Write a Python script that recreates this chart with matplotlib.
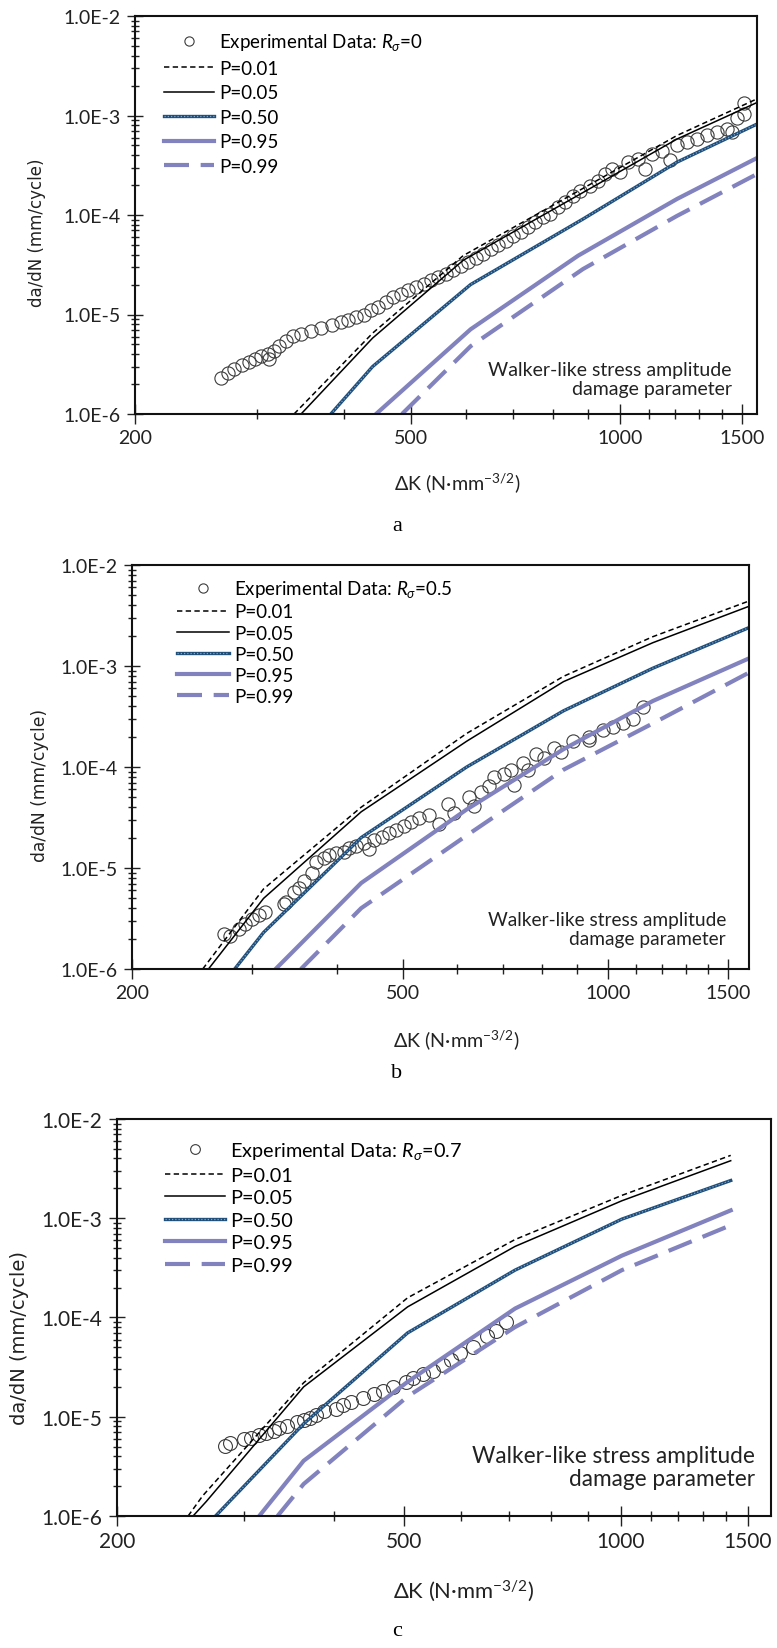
import numpy as np
import matplotlib
matplotlib.use('Agg')
import matplotlib.pyplot as plt
from matplotlib.ticker import FixedLocator, NullFormatter

plt.rcParams['font.family'] = ['Lato', 'DejaVu Sans']
plt.rcParams['mathtext.fontset'] = 'custom'
plt.rcParams['mathtext.rm'] = 'Lato'
plt.rcParams['mathtext.it'] = 'Lato:italic'

W, H = 777, 1649

# ---------------- panel a : R = 0 ----------------
a_exp_K = [266, 272, 278, 285, 292, 298, 304, 311, 312, 317, 322, 330, 338, 347,
           359, 371, 384, 396, 406, 416, 427, 437, 448, 460, 471, 483, 495, 508,
           521, 534, 547, 561, 575, 589, 604, 619, 635, 651, 667, 684, 701, 719,
           737, 755, 774, 793, 813, 834, 855, 876, 906, 928, 951, 975, 1000, 1025,
           1060, 1086, 1113, 1150, 1179, 1209, 1250, 1292, 1335, 1380, 1426, 1450,
           1474, 1511, 1511]
a_exp_v = [2.30e-6, 2.58e-6, 2.83e-6, 3.1e-6, 3.3e-6, 3.6e-6, 3.86e-6, 4.0e-6, 3.6e-6,
           4.3e-6, 4.85e-6, 5.45e-6, 6.1e-6, 6.4e-6, 6.9e-6, 7.3e-6, 7.9e-6, 8.5e-6,
           8.9e-6, 9.5e-6, 1.0e-5, 1.1e-5, 1.18e-5, 1.33e-5, 1.49e-5, 1.6e-5, 1.77e-5,
           1.88e-5, 2.03e-5, 2.2e-5, 2.37e-5, 2.57e-5, 2.83e-5, 3.1e-5, 3.34e-5,
           3.67e-5, 4.05e-5, 4.55e-5, 5.0e-5, 5.5e-5, 6.2e-5, 6.8e-5, 7.5e-5, 8.6e-5,
           9.5e-5, 1.03e-4, 1.2e-4, 1.35e-4, 1.57e-4, 1.76e-4, 1.97e-4, 2.2e-4, 2.6e-4,
           2.9e-4, 2.7e-4, 3.4e-4, 3.66e-4, 2.9e-4, 4.1e-4, 4.4e-4, 3.55e-4, 5.0e-4,
           5.4e-4, 5.8e-4, 6.3e-4, 6.8e-4, 7.3e-4, 6.8e-4, 9.5e-4, 1.04e-3, 1.35e-3]
a_p01_K = [339, 440, 594, 884, 1208, 1575]
a_p01_v = [1.0e-6, 6.5e-6, 3.9e-5, 1.85e-4, 6.3e-4, 1.47e-3]
a_p05_K = [347, 440, 594, 884, 1208, 1575]
a_p05_v = [1.0e-6, 5.8e-6, 3.5e-5, 1.68e-4, 5.8e-4, 1.35e-3]
a_p50_K = [383, 440, 609, 884, 1208, 1575]
a_p50_v = [1.0e-6, 3.0e-6, 2.0e-5, 9.1e-5, 3.4e-4, 8.2e-4]
a_p95_K = [445, 609, 870, 1208, 1575]
a_p95_v = [1.0e-6, 7.1e-6, 3.9e-5, 1.45e-4, 3.74e-4]
a_p99_K = [485, 609, 884, 1208, 1575]
a_p99_v = [1.0e-6, 4.8e-6, 2.86e-5, 9.8e-5, 2.58e-4]

# ---------------- panel b : R = 0.5 ----------------
b_exp_K = [273, 279, 287, 293, 300, 307, 314, 334, 337, 346, 352, 358, 367, 373,
           383, 389, 399, 409, 416, 427, 438, 445, 453, 465, 477, 489, 501, 514,
           527, 545, 564, 583, 593, 624, 635, 651, 668, 679, 703, 721, 727, 751,
           764, 784, 804, 832, 853, 889, 936, 936, 984, 1017, 1053, 1089, 1126]
b_exp_v = [2.2e-6, 2.1e-6, 2.5e-6, 2.8e-6, 3.1e-6, 3.4e-6, 3.7e-6, 4.4e-6, 4.6e-6,
           5.8e-6, 6.3e-6, 7.4e-6, 9.0e-6, 1.15e-5, 1.25e-5, 1.35e-5, 1.4e-5, 1.45e-5,
           1.58e-5, 1.65e-5, 1.75e-5, 1.55e-5, 1.9e-5, 2.05e-5, 2.2e-5, 2.4e-5, 2.6e-5,
           2.85e-5, 3.1e-5, 3.35e-5, 2.75e-5, 4.3e-5, 3.5e-5, 5.1e-5, 4.1e-5, 5.7e-5,
           6.5e-5, 7.9e-5, 8.6e-5, 9.35e-5, 6.7e-5, 1.1e-4, 9.35e-5, 1.33e-4, 1.22e-4,
           1.55e-4, 1.4e-4, 1.81e-4, 2.0e-4, 1.85e-4, 2.3e-4, 2.5e-4, 2.7e-4, 2.96e-4,
           3.94e-4]
b_p01_K = [254, 312, 434, 620, 860, 1163, 1610]
b_p01_v = [1.0e-6, 6.2e-6, 4.0e-5, 2.15e-4, 7.9e-4, 1.95e-3, 4.4e-3]
b_p05_K = [259, 312, 434, 620, 860, 1163, 1610]
b_p05_v = [1.0e-6, 5.0e-6, 3.6e-5, 1.8e-4, 7.0e-4, 1.7e-3, 3.9e-3]
b_p50_K = [283, 312, 434, 620, 860, 1163, 1610]
b_p50_v = [1.0e-6, 2.3e-6, 2.0e-5, 1.0e-4, 3.6e-4, 9.5e-4, 2.4e-3]
b_p95_K = [325, 434, 620, 860, 1163, 1610]
b_p95_v = [1.0e-6, 7.1e-6, 3.8e-5, 1.5e-4, 4.5e-4, 1.19e-3]
b_p99_K = [354, 434, 620, 860, 1163, 1610]
b_p99_v = [1.0e-6, 4.0e-6, 2.1e-5, 9.4e-5, 2.7e-4, 8.6e-4]

# ---------------- panel c : R = 0.7 ----------------
c_exp_K = [282, 287, 300, 307, 315, 322, 330, 336, 344, 355, 363, 370, 378, 387,
           403, 412, 422, 439, 454, 468, 483, 503, 515, 532, 549, 567, 581, 599,
           624, 652, 670, 692]
c_exp_v = [5.13e-6, 5.43e-6, 5.91e-6, 6.07e-6, 6.61e-6, 6.89e-6, 7.19e-6, 7.63e-6,
           8.16e-6, 8.89e-6, 9.27e-6, 9.67e-6, 1.05e-5, 1.13e-5, 1.19e-5, 1.30e-5,
           1.42e-5, 1.54e-5, 1.68e-5, 1.82e-5, 1.99e-5, 2.25e-5, 2.45e-5, 2.72e-5,
           2.91e-5, 3.30e-5, 3.74e-5, 4.43e-5, 5.04e-5, 6.49e-5, 7.37e-5, 9.10e-5]
c_p01_K = [251, 263, 363, 506, 713, 1003, 1420]
c_p01_v = [1.0e-6, 1.6e-6, 2.2e-5, 1.58e-4, 6.1e-4, 1.7e-3, 4.3e-3]
c_p05_K = [255, 266, 363, 506, 713, 1003, 1420]
c_p05_v = [1.0e-6, 1.4e-6, 2.0e-5, 1.28e-4, 5.2e-4, 1.5e-3, 3.8e-3]
c_p50_K = [274, 363, 506, 713, 1003, 1420]
c_p50_v = [1.0e-6, 8.5e-6, 7.0e-5, 3.0e-4, 9.8e-4, 2.4e-3]
c_p95_K = [315, 363, 506, 713, 1003, 1420]
c_p95_v = [1.0e-6, 3.6e-6, 2.25e-5, 1.23e-4, 4.2e-4, 1.2e-3]
c_p99_K = [334, 363, 506, 713, 1003, 1420]
c_p99_v = [1.0e-6, 2.1e-6, 1.6e-5, 8.0e-5, 3.0e-4, 8.5e-4]

r_labels = ['0', '0.5', '0.7']
p_labels = ['P=0.01', 'P=0.05', 'P=0.50', 'P=0.95', 'P=0.99']
x_major = [200, 500, 1000, 1500]
x_minor = [300, 400, 600, 700, 800, 900, 1100, 1200, 1300, 1400]
y_major = [1e-6, 1e-5, 1e-4, 1e-3, 1e-2]
y_labels = ['1.0E-6', '1.0E-5', '1.0E-4', '1.0E-3', '1.0E-2']

LAV = '#8282be'
NAVY = '#1f4e79'


def px2fig(x, y):
    return x / W, 1 - y / H


def draw_panel(fig, box, xmax, data, r_label, lay):
    left, top, right, bottom = box
    ax = fig.add_axes([left / W, 1 - bottom / H, (right - left) / W, (bottom - top) / H])
    exp_K, exp_v, curves = data
    ax.set_xscale('log')
    ax.set_yscale('log')

    l_exp, = ax.plot(exp_K, exp_v, 'o', mfc='none', mec='#3c3c3c', ms=lay['ms'], mew=0.8)
    (k1, v1), (k2, v2), (k3, v3), (k4, v4), (k5, v5) = curves
    l01, = ax.plot(k1, v1, color='black', lw=1.1, dashes=(3.5, 2.2))
    l05, = ax.plot(k2, v2, color='black', lw=1.1)
    l50a, = ax.plot(k3, v3, color=NAVY, lw=2.4)
    l50b, = ax.plot(k3, v3, color='#7fa3cf', lw=0.9, dashes=(1, 1.6))
    l95, = ax.plot(k4, v4, color=LAV, lw=3.0)
    l99, = ax.plot(k5, v5, color=LAV, lw=3.0, dashes=(6, 2.8))

    ax.set_xlim(200, xmax)
    ax.set_ylim(1e-6, 1e-2)
    ax.xaxis.set_major_locator(FixedLocator(x_major))
    ax.xaxis.set_minor_locator(FixedLocator(x_minor))
    ax.set_xticklabels([str(v) for v in x_major])
    ax.xaxis.set_minor_formatter(NullFormatter())
    ax.yaxis.set_major_locator(FixedLocator(y_major))
    ax.set_yticklabels(y_labels)
    ax.yaxis.set_minor_locator(FixedLocator(
        [m * 10.0 ** e for e in range(-6, -2) for m in range(2, 10)]))
    ax.yaxis.set_minor_formatter(NullFormatter())

    fs = lay['tick_fs']
    ax.tick_params(axis='x', which='major', direction='inout', length=14, width=1,
                   pad=4, labelsize=fs, colors='#222222')
    ax.tick_params(axis='x', which='minor', direction='inout', length=7, width=1,
                   colors='#222222')
    ax.tick_params(axis='y', which='major', direction='inout', length=11, width=1,
                   pad=5, labelsize=fs, colors='#222222')
    ax.tick_params(axis='y', which='minor', direction='inout', length=6, width=1,
                   colors='#222222')
    for s in ax.spines.values():
        s.set_linewidth(1.5)
        s.set_color('#111111')

    lfs = lay['leg_fs']
    fpx = lfs * 100 / 72.0
    handles = [l_exp, l01, l05, (l50a, l50b), l95, l99]
    labels = ['Experimental Data: $R_{\\sigma}$=' + r_label] + p_labels
    ax.legend(handles, labels, loc='upper left', bbox_to_anchor=lay['leg_anchor'],
              frameon=False, fontsize=lfs, handlelength=lay['handle_px'] / fpx,
              handletextpad=5 / fpx, labelspacing=lay['leg_space'], borderpad=0,
              borderaxespad=0, markerscale=0.7, numpoints=1)

    tx, ty = px2fig(*lay['walker_xy'])
    fig.text(tx, ty, 'Walker-like stress amplitude\ndamage parameter', ha='right',
             va='center', multialignment='right', fontsize=lay['walker_fs'],
             linespacing=1.15, color='#222222')
    tx, ty = px2fig(*lay['xlabel_xy'])
    fig.text(tx, ty, 'ΔK (N·mm$^{-3/2}$)', ha='center', va='center',
             fontsize=lay['xlabel_fs'], color='#222222')
    tx, ty = px2fig(*lay['ylabel_xy'])
    fig.text(tx, ty, 'da/dN (mm/cycle)', ha='center', va='center', rotation=90,
             fontsize=lay['ylabel_fs'], family='DejaVu Sans', color='#222222')
    tx, ty = px2fig(*lay['letter_xy'])
    fig.text(tx, ty, lay['letter'], ha='center', va='center', fontsize=16,
             family='Liberation Serif')
    return ax


fig = plt.figure(figsize=(W / 100, H / 100), dpi=100)

layouts = [
    dict(box=(135, 17, 757, 415), xmax=1575, ms=9.5, tick_fs=14, leg_fs=13.5,
         leg_anchor=(0.047, 0.962), handle_px=50, leg_space=0.40,
         walker_xy=(732, 380), walker_fs=14, xlabel_xy=(457, 483), xlabel_fs=14.2,
         ylabel_xy=(37, 233), ylabel_fs=12, letter_xy=(397, 527), letter='a'),
    dict(box=(132, 566, 749, 970), xmax=1610, ms=9.5, tick_fs=14, leg_fs=13.5,
         leg_anchor=(0.073, 0.967), handle_px=52, leg_space=0.22,
         walker_xy=(726, 930), walker_fs=13.8, xlabel_xy=(456, 1040), xlabel_fs=14.2,
         ylabel_xy=(40, 785), ylabel_fs=12.3, letter_xy=(397, 1073), letter='b'),
    dict(box=(117, 1120, 771, 1517), xmax=1615, ms=10, tick_fs=15, leg_fs=14.3,
         leg_anchor=(0.073, 0.947), handle_px=60, leg_space=0.28,
         walker_xy=(755, 1468), walker_fs=16.3, xlabel_xy=(464, 1591), xlabel_fs=15.8,
         ylabel_xy=(20, 1338), ylabel_fs=14, letter_xy=(397, 1632), letter='c'),
]

panel_data = [
    (a_exp_K, a_exp_v, [(a_p01_K, a_p01_v), (a_p05_K, a_p05_v), (a_p50_K, a_p50_v),
                        (a_p95_K, a_p95_v), (a_p99_K, a_p99_v)]),
    (b_exp_K, b_exp_v, [(b_p01_K, b_p01_v), (b_p05_K, b_p05_v), (b_p50_K, b_p50_v),
                        (b_p95_K, b_p95_v), (b_p99_K, b_p99_v)]),
    (c_exp_K, c_exp_v, [(c_p01_K, c_p01_v), (c_p05_K, c_p05_v), (c_p50_K, c_p50_v),
                        (c_p95_K, c_p95_v), (c_p99_K, c_p99_v)]),
]

for lay, data, r in zip(layouts, panel_data, r_labels):
    draw_panel(fig, lay['box'], lay['xmax'], data, r, lay)

fig.savefig('out.png', dpi=100)
